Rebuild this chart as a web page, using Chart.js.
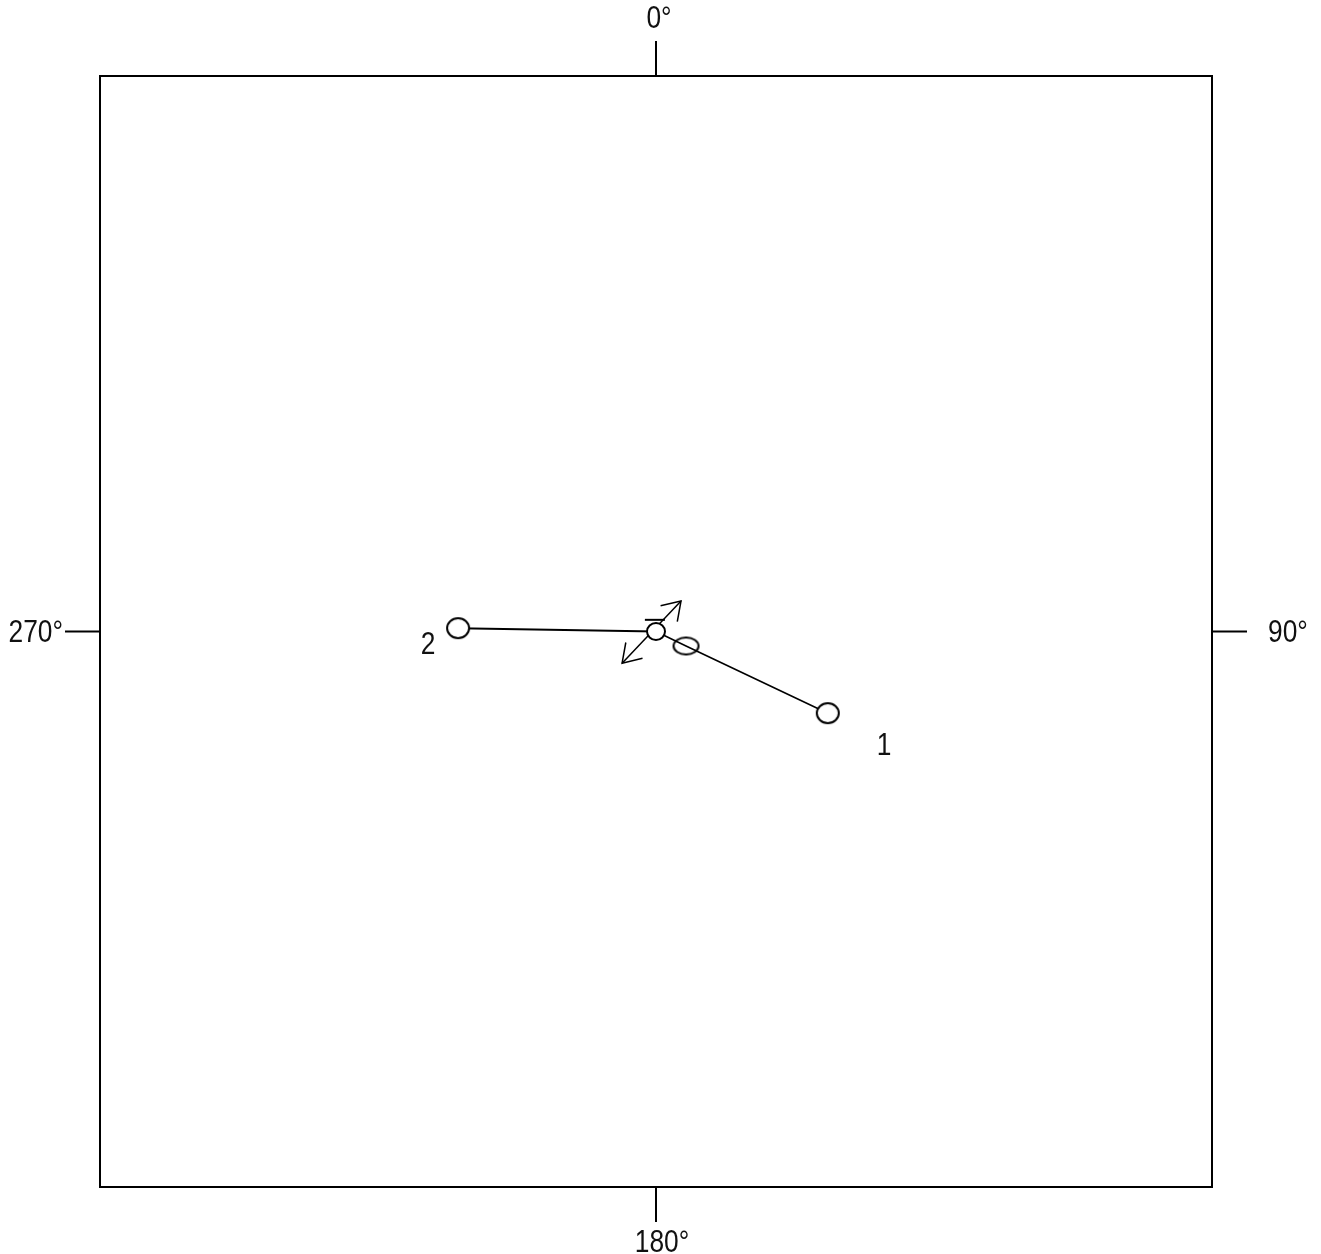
<!DOCTYPE html>
<html>
<head>
<meta charset="utf-8">
<script src="https://cdn.jsdelivr.net/npm/chart.js@4"></script>
<style>
  body { margin: 0; background: #fff; }
</style>
</head>
<body>
<canvas id="graph1" width="1321" height="1254"></canvas>
<script>
// positions in plot units, box goes -1..1 both ways, 0 = centre
const pathOneX = [0, 0.054, 0.309];
const pathOneY = [0, -0.026, -0.147];
const pathTwoX = [0, -0.356];
const pathTwoY = [0, 0.006];
const arrowX = [-0.061, 0.045];
const arrowY = [-0.057, 0.055];
const barX = [-0.020, 0.016];
const barY = [0.021, 0.021];
const pointNames = ['1', '2'];
const nameX = [0.41, -0.41];
const nameY = [-0.206, -0.024];
const compassLabels = ['0°', '90°', '180°', '270°'];

const FONT = '31px "Liberation Sans", Arial, sans-serif';

function ellipse(rx, ry, fill) {
    const c = document.createElement('canvas');
    c.width = Math.ceil(rx * 2 + 4);
    c.height = Math.ceil(ry * 2 + 4);
    const g = c.getContext('2d');
    g.beginPath();
    g.ellipse(c.width / 2, c.height / 2, rx, ry, 0, 0, Math.PI * 2);
    if (fill) { g.fillStyle = fill; g.fill(); }
    g.lineWidth = 2;
    g.strokeStyle = '#000';
    g.stroke();
    return c;
}

const dotBig = ellipse(11, 10, '#fff');
const dotMid = ellipse(9, 8.5, '#fff');
const dotOpen = ellipse(12.5, 8.5, null);

function pts(xs, ys) {
    return xs.map((x, i) => ({ x: x, y: ys[i] }));
}

// narrow text, like the original bitmap font
function text(ctx, s, x, y, align) {
    ctx.save();
    ctx.translate(x, y);
    ctx.scale(0.85, 1);
    ctx.textAlign = align;
    ctx.fillText(s, 0, 0);
    ctx.restore();
}

const compassPlugin = {
    id: 'compass',
    afterDatasetsDraw(chart) {
        const ctx = chart.ctx;
        const x = chart.scales.x, y = chart.scales.y;
        const a = chart.chartArea;
        const cx = x.getPixelForValue(0), cy = y.getPixelForValue(0);
        const tick = 35;
        ctx.save();
        ctx.strokeStyle = '#000';
        ctx.lineWidth = 2;
        ctx.strokeRect(a.left, a.top, a.right - a.left, a.bottom - a.top);
        ctx.beginPath();
        ctx.moveTo(cx, a.top); ctx.lineTo(cx, a.top - tick);
        ctx.moveTo(a.right, cy); ctx.lineTo(a.right + tick, cy);
        ctx.moveTo(cx, a.bottom); ctx.lineTo(cx, a.bottom + tick);
        ctx.moveTo(a.left, cy); ctx.lineTo(a.left - tick, cy);
        ctx.stroke();

        ctx.fillStyle = '#111';
        ctx.font = FONT;
        ctx.textBaseline = 'middle';
        text(ctx, compassLabels[0], cx + 3, a.top - tick - 22, 'center');
        text(ctx, compassLabels[2], cx + 6, a.bottom + tick + 21, 'center');
        text(ctx, compassLabels[1], a.right + tick + 21, cy + 2, 'left');
        text(ctx, compassLabels[3], a.left - tick - 2, cy + 2, 'right');

        // point names
        pointNames.forEach((n, i) => {
            text(ctx, n, x.getPixelForValue(nameX[i]), y.getPixelForValue(nameY[i]) + 1, 'center');
        });

        // arrow heads on both ends of the arrow dataset
        const meta = chart.getDatasetMeta(2).data;
        const p0 = meta[0], p1 = meta[1];
        const heads = [[p1, p0], [p0, p1]];
        ctx.lineWidth = 1.5;
        heads.forEach(([from, to]) => {
            const ang = Math.atan2(to.y - from.y, to.x - from.x);
            const len = 21, spread = 0.58;
            ctx.beginPath();
            ctx.moveTo(to.x - len * Math.cos(ang - spread), to.y - len * Math.sin(ang - spread));
            ctx.lineTo(to.x, to.y);
            ctx.lineTo(to.x - len * Math.cos(ang + spread), to.y - len * Math.sin(ang + spread));
            ctx.stroke();
        });
        ctx.restore();
    }
};

const data = {
    datasets: [
        {
            label: 'path 1',
            data: pts(pathOneX, pathOneY),
            showLine: true,
            borderColor: '#000',
            borderWidth: 1.6,
            pointRadius: 0,
            order: 5
        },
        {
            label: 'path 2',
            data: pts(pathTwoX, pathTwoY),
            showLine: true,
            borderColor: '#000',
            borderWidth: 2,
            pointRadius: 0,
            order: 5
        },
        {
            label: 'arrow',
            data: pts(arrowX, arrowY),
            showLine: true,
            borderColor: '#000',
            borderWidth: 1.5,
            pointRadius: 0,
            order: 4
        },
        {
            label: 'bar',
            data: pts(barX, barY),
            showLine: true,
            borderColor: '#000',
            borderWidth: 2,
            pointRadius: 0,
            order: 4
        },
        {
            label: 'points',
            data: [
                { x: pathOneX[2], y: pathOneY[2] },
                { x: pathTwoX[1], y: pathTwoY[1] },
                { x: pathOneX[0], y: pathOneY[0] },
                { x: pathOneX[1], y: pathOneY[1] }
            ],
            showLine: false,
            pointStyle: [dotBig, dotBig, dotMid, dotOpen],
            pointRadius: 10,
            order: 1
        }
    ]
};

const config = {
    type: 'scatter',
    data: data,
    options: {
        responsive: false,
        animation: false,
        events: [],
        layout: { padding: { left: 100, right: 109, top: 76, bottom: 67 } },
        scales: {
            x: { display: false, min: -1, max: 1 },
            y: { display: false, min: -1, max: 1 }
        },
        plugins: {
            legend: { display: false },
            tooltip: { enabled: false }
        }
    },
    plugins: [compassPlugin]
};

new Chart(document.querySelector('#graph1'), config);
</script>
</body>
</html>
